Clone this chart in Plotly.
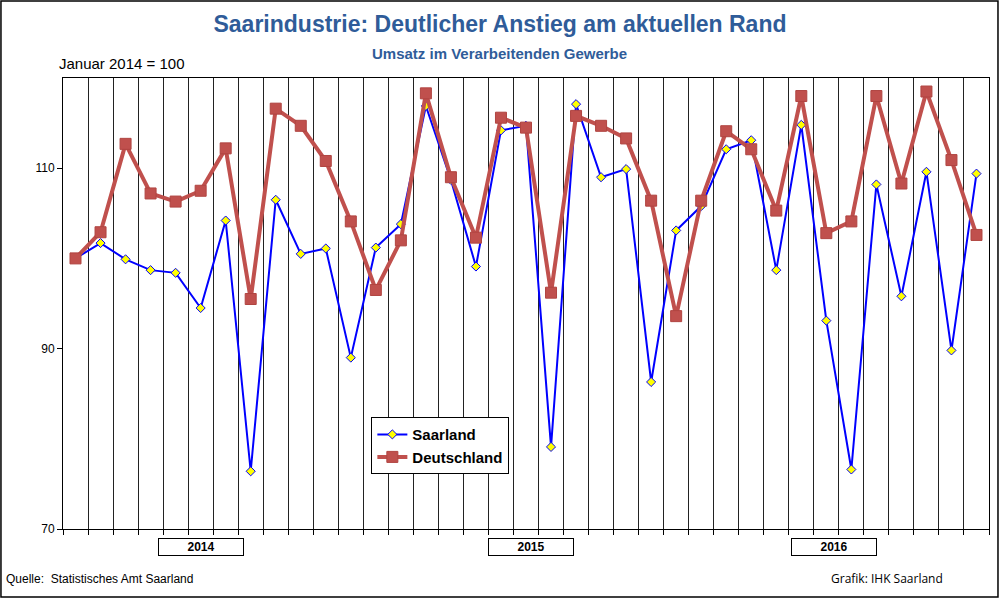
import plotly.graph_objects as go

# Monatswerte Jan 2014 bis Jan 2017, Januar 2014 = 100
monate = list(range(37))
saarland = [100.0, 101.7, 99.9, 98.7, 98.4, 94.5, 104.2, 76.4, 106.5, 100.5, 101.1, 89.0,
            101.2, 103.8, 116.9, 108.7, 99.1, 114.2, 114.7, 79.1, 117.1, 109.0, 109.9, 86.3,
            103.1, 105.8, 112.1, 113.1, 98.7, 114.8, 93.1, 76.6, 108.2, 95.8, 109.6, 89.8,
            109.4]
deutschland = [100.0, 102.9, 112.7, 107.2, 106.3, 107.5, 112.2, 95.5, 116.6, 114.7, 110.8, 104.1,
               96.5, 102.0, 118.3, 109.0, 102.3, 115.6, 114.5, 96.2, 115.8, 114.7, 113.3, 106.4,
               93.6, 106.4, 114.1, 112.1, 105.3, 118.0, 102.8, 104.1, 118.0, 108.3, 118.5, 110.9,
               102.6]
jahre = ["2014", "2015", "2016"]
jahr_pos = [5.0, 18.2, 30.3]

FONT = "Liberation Sans, Arial, sans-serif"
BLAU = "#2F5C99"

fig = go.Figure()
fig.add_trace(go.Scatter(
    x=monate, y=saarland, name="Saarland", mode="lines+markers",
    line=dict(color="#0000FF", width=2),
    marker=dict(symbol="diamond", size=7, color="#FFFF00",
                line=dict(color="#0000FF", width=1)),
))
fig.add_trace(go.Scatter(
    x=monate, y=deutschland, name="Deutschland", mode="lines+markers",
    line=dict(color="#C0504D", width=4),
    marker=dict(symbol="square", size=11, color="#C0504D",
                line=dict(color="#B04440", width=1)),
))

# Jahreskaestchen unter der x-Achse
for jahr, pos in zip(jahre, jahr_pos):
    fig.add_annotation(x=pos, xref="x", y=-0.04, yref="paper", text="<b>" + jahr + "</b>",
                       showarrow=False, yanchor="middle",
                       font=dict(family=FONT, size=12, color="black"),
                       bordercolor="black", borderwidth=1, borderpad=1, width=82,
                       bgcolor="white")

texte = [
    dict(x=0.4718, y=1.0554, text="<b>Umsatz im Verarbeitenden Gewerbe</b>", size=15,
         xanchor="center", fam=FONT, color=BLAU),
    dict(x=-0.0065, y=1.033, text="Januar 2014 = 100", size=15, xanchor="left", fam=FONT,
         color="black"),
    dict(x=-0.0635, y=-0.11, text="Quelle:  Statistisches Amt Saarland", size=12,
         xanchor="left", fam=FONT, color="black"),
    dict(x=0.953, y=-0.11, text="Grafik: IHK Saarland", size=12, xanchor="right",
         fam="Open Sans, sans-serif", color="black"),
]
for t in texte:
    fig.add_annotation(x=t["x"], xref="paper", y=t["y"], yref="paper", text=t["text"],
                       showarrow=False, xanchor=t["xanchor"], yanchor="middle",
                       font=dict(family=t["fam"], size=t["size"], color=t["color"]))

# Rahmen um die ganze Grafik
fig.add_shape(type="rect", xref="paper", yref="paper",
              x0=-0.067, x1=1.0097, y0=-0.1508, y1=1.1707,
              line=dict(color="black", width=1.5), layer="below")

fig.update_layout(
    width=1000, height=599,
    margin=dict(l=63, r=11, t=78, b=70),
    paper_bgcolor="white", plot_bgcolor="white",
    title=dict(
        text="<b>Saarindustrie: Deutlicher Anstieg am aktuellen Rand</b>",
        x=0.5, xanchor="center", y=0.96, yanchor="middle",
        font=dict(family=FONT, size=23, color=BLAU),
    ),
    legend=dict(x=0.333, y=0.248, xanchor="left", yanchor="top",
                bordercolor="black", borderwidth=1, bgcolor="white",
                font=dict(family=FONT, size=15, color="black", weight="bold"),
                tracegroupgap=0, itemwidth=30),
    xaxis=dict(range=[-0.5, 36.5], tick0=-0.5, dtick=1, showticklabels=False,
               showgrid=True, gridcolor="#222222", gridwidth=1,
               ticks="outside", ticklen=5, tickcolor="black",
               showline=True, linecolor="black", linewidth=1, mirror=True,
               zeroline=False),
    yaxis=dict(range=[70, 120], tick0=70, dtick=20, showgrid=False,
               ticks="outside", ticklen=5, tickcolor="black",
               showline=True, linecolor="black", linewidth=1, mirror=True,
               zeroline=False, tickfont=dict(family=FONT, size=12, color="black")),
)

# Seitenrand des Browsers entfernen, damit die Grafik genau im Fenster sitzt
fig.write_html("out.html", config={"displayModeBar": False},
               post_script="document.body.style.margin='0px';")
